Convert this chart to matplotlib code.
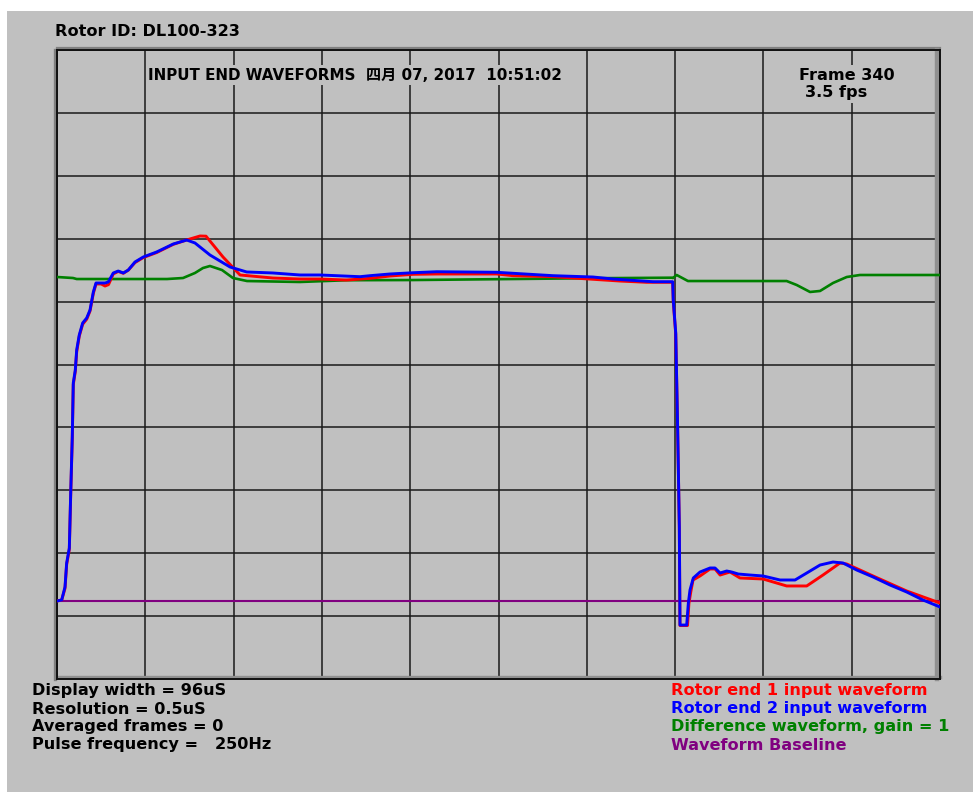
import matplotlib
matplotlib.use("Agg")
import matplotlib.pyplot as plt
import numpy as np
from matplotlib.patches import Rectangle
from matplotlib.transforms import ScaledTranslation

# time in microseconds, amplitude in grid divisions
blue_t = [0, 0.51, 0.87, 1.05, 1.34, 1.49, 1.66, 1.77, 1.99, 2.14, 2.42, 2.79, 3.23, 3.59,
          3.95, 4.24, 5.22, 5.58, 6.12, 6.66, 7.21, 7.75, 8.48, 9.38, 10.84, 12.64, 14.10,
          15.00, 16.63, 18.81, 20.62, 23.48, 26.42, 28.59, 32.94, 34.03, 36.20, 38.71,
          41.28, 47.80, 49.58, 53.93, 58.27, 60.45, 64.80, 66.94, 67.00, 67.27, 67.48,
          67.66, 67.73, 68.46, 68.64, 68.82, 69.18, 69.91, 71.00, 71.54, 72.09, 72.81,
          73.35, 74.07, 75.34, 76.76, 78.61, 80.24, 81.51, 82.96, 84.37, 85.46, 86.94,
          88.72, 90.57, 92.38, 94.15, 96.00]
blue_v = [1.24, 1.256, 1.463, 1.844, 2.083, 2.957, 3.847, 4.706, 4.913, 5.231, 5.469, 5.660,
          5.739, 5.867, 6.153, 6.296, 6.296, 6.312, 6.455, 6.486, 6.455, 6.502, 6.630, 6.709,
          6.789, 6.916, 6.979, 6.932, 6.741, 6.550, 6.471, 6.455, 6.423, 6.423, 6.396, 6.412,
          6.439, 6.459, 6.475, 6.466, 6.450, 6.412, 6.391, 6.359, 6.316, 6.316, 6.025, 5.501,
          3.959, 2.417, 0.858, 0.858, 1.208, 1.415, 1.606, 1.701, 1.765, 1.765, 1.685, 1.717,
          1.701, 1.669, 1.653, 1.638, 1.574, 1.574, 1.685, 1.812, 1.860, 1.844, 1.733, 1.622,
          1.494, 1.383, 1.256, 1.145]

red_t = [0, 0.51, 0.87, 1.05, 1.34, 1.49, 1.66, 1.77, 1.99, 2.14, 2.42, 2.79, 3.23, 3.59,
         3.95, 4.24, 4.80, 5.22, 5.60, 6.12, 6.66, 7.21, 7.75, 8.48, 9.38, 10.84, 12.64,
         14.10, 15.55, 16.20, 18.05, 19.90, 23.48, 26.42, 28.59, 31.50, 34.03, 36.20, 38.71,
         41.28, 47.80, 49.58, 53.93, 58.27, 61.20, 64.10, 66.94, 67.00, 67.27, 67.48, 67.66,
         67.73, 68.55, 68.70, 68.90, 69.15, 69.91, 71.00, 71.54, 72.09, 73.17, 74.25, 76.76,
         79.33, 81.51, 83.28, 85.13, 85.86, 88.72, 92.38, 96.00]
red_v = [1.24, 1.256, 1.44, 1.82, 2.06, 2.93, 3.82, 4.68, 4.89, 5.20, 5.45, 5.64, 5.72, 5.85,
         6.13, 6.28, 6.28, 6.248, 6.27, 6.44, 6.48, 6.45, 6.50, 6.62, 6.70, 6.78, 6.91, 6.98,
         7.043, 7.04, 6.709, 6.423, 6.375, 6.359, 6.359, 6.343, 6.370, 6.407, 6.434, 6.439,
         6.439, 6.412, 6.396, 6.355, 6.327, 6.307, 6.307, 6.00, 5.48, 3.94, 2.40, 0.85, 0.85,
         1.20, 1.38, 1.574, 1.638, 1.749, 1.749, 1.653, 1.701, 1.606, 1.590, 1.479, 1.479,
         1.653, 1.844, 1.828, 1.638, 1.399, 1.208]

green_t = [0, 1.74, 2.14, 4.46, 11.96, 13.70, 15.00, 15.87, 16.63, 17.94, 19.13, 20.66,
           26.42, 31.50, 38.71, 49.58, 56.86, 66.82, 66.97, 67.37, 68.60, 71.32, 74.25,
           79.33, 80.42, 81.87, 82.96, 84.37, 85.86, 87.30, 96.00]
green_v = [6.391, 6.375, 6.359, 6.359, 6.359, 6.375, 6.455, 6.534, 6.566, 6.502, 6.375, 6.327,
           6.312, 6.340, 6.343, 6.359, 6.370, 6.380, 6.375, 6.423, 6.327, 6.327, 6.327, 6.327,
           6.264, 6.153, 6.169, 6.296, 6.391, 6.423, 6.423]

baseline_level = 1.24
display_width = 96
x_divs = 10
y_divs = 10

info_lines = ["Display width = 96uS", "Resolution = 0.5uS", "Averaged frames = 0",
              "Pulse frequency =   250Hz"]
legend_lines = ["Rotor end 1 input waveform", "Rotor end 2 input waveform",
                "Difference waveform, gain = 1", "Waveform Baseline"]
legend_colors = ["#ff0000", "#0000ff", "#008000", "#800080"]

BG = "#c0c0c0"
W, H = 973, 792
fig = plt.figure(figsize=(W / 100, H / 100), dpi=100, facecolor="white")
fig.patches.append(Rectangle((7 / W, 0), 1 - 7 / W, 1 - 11 / H, transform=fig.transFigure,
                             facecolor=BG, edgecolor="none", zorder=-10))

ax = fig.add_axes([57 / W, 1 - 679 / H, (940 - 57) / W, (679 - 50) / H])
ax.set_facecolor(BG)
ax.set_xlim(0, display_width)
ax.set_ylim(0, y_divs)
ax.set_xticks(np.linspace(0, display_width, x_divs + 1))
ax.set_yticks(np.arange(0, y_divs + 1))
ax.tick_params(length=0, labelbottom=False, labelleft=False)
ax.grid(True, color="#1a1a1a", linewidth=1.1)
for s in ax.spines.values():
    s.set_color("#111111")
    s.set_linewidth(1.4)


def shifted(dx, dy):
    return ax.transAxes + ScaledTranslation(dx / 100, dy / 100, fig.dpi_scale_trans)


# sunken 3D frame shading
shade = "#808080"
ax.plot([0, 0], [0, 1], transform=shifted(-2.5, 0), color=shade, lw=2.4, clip_on=False)
ax.plot([0, 1], [1, 1], transform=shifted(0, 1.8), color=shade, lw=1.6, clip_on=False)
ax.plot([1, 1], [0, 1], transform=shifted(-3, 0), color="#909090", lw=3.2, clip_on=False)
ax.plot([0, 1], [0, 0], transform=shifted(0, 2.5), color="#909090", lw=2.4, clip_on=False)

ax.plot([0, display_width], [baseline_level, baseline_level], color="#800080", lw=1.5, zorder=3)
ax.plot(green_t, green_v, color="#008000", lw=1.9, zorder=4)
ax.plot(red_t, red_v, color="#ff0000", lw=2.1, zorder=5)
ax.plot(blue_t, blue_v, color="#0000ff", lw=2.1, zorder=6)

fonts = ["DejaVu Sans", "Noto Sans CJK SC"]
fs = 11.6
box = dict(facecolor=BG, edgecolor="none", pad=1.5)

fig.text(55 / W, 1 - 31 / H, "Rotor ID: DL100-323", fontsize=fs, fontweight="bold",
         family=fonts, va="center", ha="left")
ax.text(148 / W, 1 - 75 / H, "INPUT END WAVEFORMS  四月 07, 2017  10:51:02", fontsize=10.9,
        fontweight="bold", family=fonts, va="center", ha="left", transform=fig.transFigure,
        bbox=box, zorder=10)
ax.text(799 / W, 1 - 75 / H, "Frame 340", fontsize=fs, fontweight="bold", family=fonts,
        va="center", ha="left", transform=fig.transFigure, bbox=box, zorder=10)
ax.text(805 / W, 1 - 93 / H, "3.5 fps", fontsize=fs, fontweight="bold", family=fonts,
        va="center", ha="left", transform=fig.transFigure, bbox=box, zorder=10)

for i, line in enumerate(info_lines):
    fig.text(32 / W, 1 - (691 + 18 * i) / H, line, fontsize=fs, fontweight="bold",
             family=fonts, va="center", ha="left")
for i, (line, c) in enumerate(zip(legend_lines, legend_colors)):
    fig.text(671 / W, 1 - (691 + 18 * i) / H, line, fontsize=fs, fontweight="bold",
             family=fonts, va="center", ha="left", color=c)

fig.savefig("out.png", dpi=100, facecolor=fig.get_facecolor())
